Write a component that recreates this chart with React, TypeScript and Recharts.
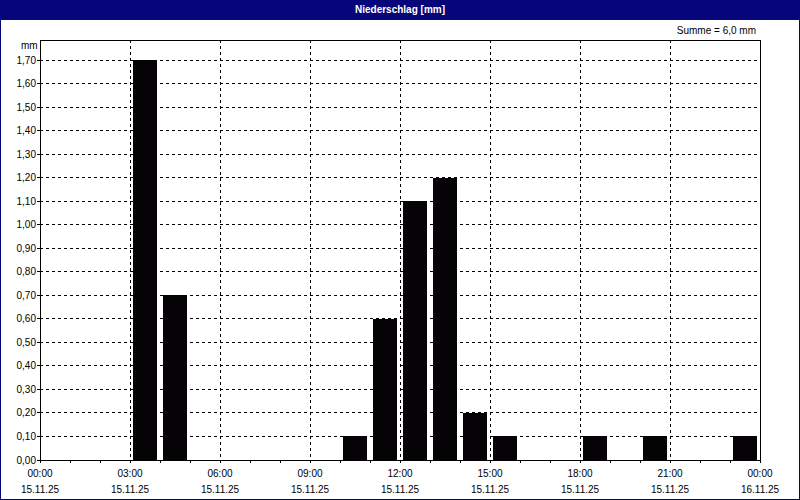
import { BarChart, Bar, XAxis, YAxis, CartesianGrid, ReferenceArea } from "recharts"

// Niederschlag je Stunde, 15.11.25 00:00 - 16.11.25 00:00
const hours = [0, 1, 2, 3, 4, 5, 6, 7, 8, 9, 10, 11, 12, 13, 14, 15, 16, 17, 18, 19, 20, 21, 22, 23]
const rain = [0, 0, 0, 1.7, 0.7, 0, 0, 0, 0, 0, 0.1, 0.6, 1.1, 1.2, 0.2, 0.1, 0, 0, 0.1, 0, 0.1, 0, 0, 0.1]

const hourTicks = [0, 1, 2, 3, 4, 5, 6, 7, 8, 9, 10, 11, 12, 13, 14, 15, 16, 17, 18, 19, 20, 21, 22, 23, 24]
const majorHours = [0, 3, 6, 9, 12, 15, 18, 21, 24]
const timeLabels = ["00:00", "03:00", "06:00", "09:00", "12:00", "15:00", "18:00", "21:00", "00:00"]
const dateLabels = ["15.11.25", "15.11.25", "15.11.25", "15.11.25", "15.11.25", "15.11.25", "15.11.25", "15.11.25", "16.11.25"]

const yTicks = [0, 0.1, 0.2, 0.3, 0.4, 0.5, 0.6, 0.7, 0.8, 0.9, 1.0, 1.1, 1.2, 1.3, 1.4, 1.5, 1.6, 1.7]
const yMax = 1.785

const data = hours.map((h, i) => ({ t: h + 0.5, mm: rain[i] }))
const total = rain.reduce((a, b) => a + b, 0)

const font = '"Liberation Sans", Arial, sans-serif'
const navy = "#06067a"

const HourTick = (props: any) => {
  const { x, y, payload } = props
  const i = majorHours.indexOf(payload.value)
  if (i < 0) return <g />
  return (
    <g>
      <text x={x} y={y + 12} textAnchor="middle" fontSize={10} fontFamily={font} fill="#000">
        {timeLabels[i]}
      </text>
      <text x={x} y={y + 28} textAnchor="middle" fontSize={10} fontFamily={font} fill="#000">
        {dateLabels[i]}
      </text>
    </g>
  )
}

export default function App() {
  return (
    <div
      style={{
        position: "absolute",
        left: 0,
        top: 0,
        width: 800,
        height: 500,
        background: "#fff",
        fontFamily: font,
        overflow: "hidden",
      }}
    >
      <style>{"svg line, svg rect, svg path { shape-rendering: crispEdges; }"}</style>
      <div
        style={{
          position: "absolute",
          left: 0,
          top: 0,
          width: 800,
          height: 20,
          background: navy,
          color: "#fff",
          fontSize: 10,
          fontWeight: "bold",
          lineHeight: "19px",
          textAlign: "center",
        }}
      >
        Niederschlag [mm]
      </div>
      <div style={{ position: "absolute", right: 44, top: 25, fontSize: 10, color: "#000" }}>
        Summe = {total.toFixed(1).replace(".", ",")} mm
      </div>
      <div style={{ position: "absolute", left: 21, top: 40, fontSize: 10, color: "#000" }}>mm</div>
      <div style={{ position: "absolute", left: 0, top: 0 }}>
        <BarChart width={800} height={500} data={data} margin={{ top: 40, right: 40, bottom: 0, left: 0 }}>
          <CartesianGrid
            stroke="#000"
            strokeDasharray="3 3"
            verticalValues={majorHours}
            horizontalValues={yTicks}
          />
          <XAxis
            dataKey="t"
            type="number"
            domain={[0, 24]}
            ticks={hourTicks}
            interval={0}
            height={40}
            tickSize={3}
            tickMargin={2}
            stroke="#000"
            tick={<HourTick />}
          />
          <YAxis
            type="number"
            domain={[0, yMax]}
            ticks={yTicks}
            interval={0}
            width={40}
            tickSize={3}
            tickMargin={1}
            stroke="#000"
            tick={{ fontSize: 10, fontFamily: font, fill: "#000" }}
            tickFormatter={(v: number) => v.toFixed(2).replace(".", ",")}
            allowDataOverflow
          />
          <Bar dataKey="mm" fill="#050306" barSize={24} isAnimationActive={false} />
          <ReferenceArea x1={0} x2={24} y1={0} y2={yMax} fill="none" stroke="#000" strokeWidth={1} ifOverflow="visible" />
        </BarChart>
      </div>
      <div
        style={{
          position: "absolute",
          left: 0,
          top: 0,
          width: 800,
          height: 500,
          boxSizing: "border-box",
          border: `1px solid ${navy}`,
          pointerEvents: "none",
        }}
      />
    </div>
  )
}
